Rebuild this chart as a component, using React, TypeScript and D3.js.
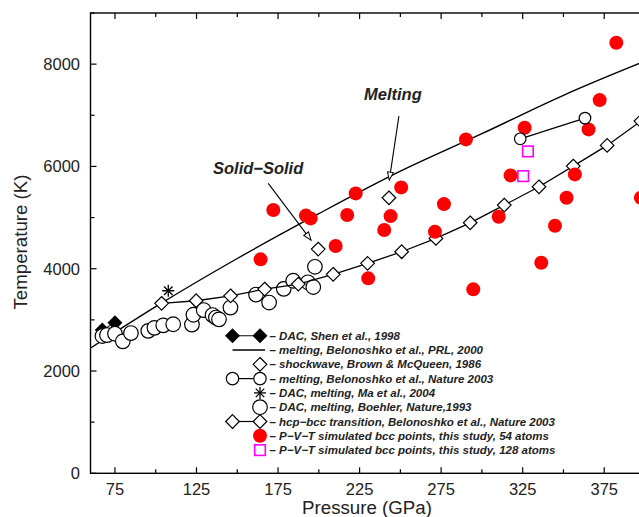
import React from "react";
import * as d3 from "d3";

// Melting curve, Belonoshko et al., PRL 2000
const meltP = [60, 100, 150, 200, 250, 300, 350, 400];
const meltT = [2449, 3260, 4200, 5076, 5907, 6640, 7390, 8058];

// hcp-bcc transition, Belonoshko et al., Nature 2003
const hcpP = [103.6, 124.8, 145.9, 166.8, 187.4, 208.8, 229.9, 250.8, 271.8, 292.8, 313.7, 335.0, 356.0, 376.8, 397.5];
const hcpT = [3323, 3374, 3470, 3602, 3700, 3890, 4105, 4332, 4593, 4898, 5244, 5602, 6007, 6411, 6886];

// Shockwave, Brown & McQueen 1986
const shockP = [199.6, 243.0];
const shockT = [4384, 5387];

// DAC, Shen et al. 1998
const shenP = [67.2, 75.0];
const shenT = [2801, 2944];

// DAC, Ma et al. 2004
const maP = [107.7];
const maT = [3569];

// Melting, Belonoshko et al., Nature 2003
const bel03P = [323.5, 363.2];
const bel03T = [6540, 6945];

// DAC, Boehler 1993
const boehP = [67.3, 70.1, 75.0, 79.8, 84.8, 95.4, 99.2, 104.6, 110.7, 122.2, 123.1, 129.4, 134.8, 136.9, 138.8, 145.8, 161.5, 169.5, 178.5, 184.3, 193.3, 196.6, 197.6];
const boehT = [2684, 2703, 2729, 2580, 2742, 2785, 2844, 2893, 2914, 2908, 3100, 3192, 3094, 3045, 3010, 3241, 3495, 3339, 3606, 3765, 3735, 3642, 4038];

// P-V-T simulated bcc points, 54 atoms
const redP = [382.4, 372.2, 365.4, 326.2, 290.2, 317.6, 357.0, 351.9, 397.5, 344.8, 310.3, 276.7, 250.5, 222.6, 217.4, 244.0, 240.1, 271.2, 210.3, 336.4, 230.3, 294.7, 172.1, 192.1, 195.0, 164.3];
const redT = [8417, 7297, 6724, 6755, 6529, 5825, 5844, 5387, 5387, 4840, 5016, 5264, 5590, 5473, 5049, 5029, 4756, 4723, 4443, 4117, 3812, 3597, 5147, 5039, 4984, 4183];

// P-V-T simulated bcc points, 128 atoms
const sqP = [328.2, 325.3];
const sqT = [6294, 5811];

const xTicks = [75, 100, 125, 150, 175, 200, 225, 250, 275, 300, 325, 350, 375, 400];
const yTicks = [0, 1000, 2000, 3000, 4000, 5000, 6000, 7000, 8000, 9000];

const legendLabels = [
  "– DAC, Shen et al., 1998",
  "– melting, Belonoshko et al., PRL, 2000",
  "– shockwave, Brown & McQueen, 1986",
  "– melting, Belonoshko et al., Nature 2003",
  "– DAC, melting, Ma et al., 2004",
  "– DAC, melting, Boehler, Nature,1993",
  "– hcp−bcc transition, Belonoshko et al., Nature 2003",
  "– P−V−T simulated bcc points, this study, 54 atoms",
  "– P−V−T simulated bcc points, this study, 128 atoms",
];

const W = 639, H = 517;
const FONT = "'Liberation Sans', Arial, Helvetica, sans-serif";
const TXT = "#222";

function diamondPath(cx: number, cy: number, r: number) {
  return `M${cx},${cy - r}L${cx + r},${cy}L${cx},${cy + r}L${cx - r},${cy}Z`;
}

function Asterisk({ cx, cy, r }: { cx: number; cy: number; r: number }) {
  const d = r * Math.SQRT1_2;
  return (
    <g stroke="#000" strokeWidth={1.3}>
      <line x1={cx} y1={cy - r} x2={cx} y2={cy + r} />
      <line x1={cx - r} y1={cy} x2={cx + r} y2={cy} />
      <line x1={cx - d} y1={cy - d} x2={cx + d} y2={cy + d} />
      <line x1={cx - d} y1={cy + d} x2={cx + d} y2={cy - d} />
    </g>
  );
}

export default function App() {
  const x = d3.scaleLinear().domain([60, 400]).range([90.5, 645]);
  const y = d3.scaleLinear().domain([0, 9000]).range([473.3, 13]);
  const x0 = x(60), x1 = x(400), y0 = y(0), y1 = y(9000);

  const meltLine = d3
    .line<number>()
    .x((_, i) => x(meltP[i]))
    .y((d) => y(d))
    .curve(d3.curveMonotoneX)(meltT) as string;
  const hcpLine = d3
    .line<number>()
    .x((_, i) => x(hcpP[i]))
    .y((d) => y(d))(hcpT) as string;
  const shenLine = d3
    .line<number>()
    .x((_, i) => x(shenP[i]))
    .y((d) => y(d))(shenT) as string;
  const bel03Line = d3
    .line<number>()
    .x((_, i) => x(bel03P[i]))
    .y((d) => y(d))(bel03T) as string;

  // legend geometry
  const lgY0 = 335.7, lgDy = 14.3, lgX1 = 232.5, lgX2 = 260, lgTx = 269.5;

  return (
    <svg
      width={W}
      height={H}
      style={{ position: "absolute", left: 0, top: 0, background: "#fff" }}
      fontFamily={FONT}
    >
      <defs>
        <marker id="openArrow" markerUnits="userSpaceOnUse" markerWidth={12} markerHeight={10} refX={9} refY={3.5} orient="auto">
          <path d="M1,0.5 L9,3.5 L1,6.5 Z" fill="#fff" stroke="#000" strokeWidth={1} />
        </marker>
        <clipPath id="plotClip">
          <rect x={x0} y={y1} width={x1 - x0} height={y0 - y1} />
        </clipPath>
      </defs>

      {/* frame */}
      <rect x={x0} y={y1} width={x1 - x0} height={y0 - y1} fill="none" stroke="#000" strokeWidth={1.4} />

      {/* x ticks */}
      {xTicks.map((v) => {
        const major = (v - 75) % 50 === 0;
        const len = major ? 6 : 4;
        return (
          <g key={"xt" + v}>
            <line x1={x(v)} x2={x(v)} y1={y0} y2={y0 - len} stroke="#000" strokeWidth={1.2} />
            <line x1={x(v)} x2={x(v)} y1={y1} y2={y1 + len} stroke="#000" strokeWidth={1.2} />
            {major && (
              <text x={x(v)} y={495} textAnchor="middle" fontSize={16.5} fill={TXT}>
                {v}
              </text>
            )}
          </g>
        );
      })}

      {/* y ticks */}
      {yTicks.map((v) => {
        const major = v % 2000 === 0;
        const len = major ? 6 : 4;
        return (
          <g key={"yt" + v}>
            <line x1={x0} x2={x0 + len} y1={y(v)} y2={y(v)} stroke="#000" strokeWidth={1.2} />
            {major && (
              <text x={80} y={y(v) + 6} textAnchor="end" fontSize={16.5} fill={TXT}>
                {v}
              </text>
            )}
          </g>
        );
      })}

      {/* axis titles */}
      <text x={367} y={513.5} textAnchor="middle" fontSize={18.7} fill={TXT}>
        Pressure (GPa)
      </text>
      <text transform={`translate(27,242) rotate(-90)`} textAnchor="middle" fontSize={18.7} fill={TXT}>
        Temperature (K)
      </text>

      <g clipPath="url(#plotClip)">
        {/* melting line Belonoshko 2000 */}
        <path d={meltLine} fill="none" stroke="#000" strokeWidth={1.4} />

        {/* Shen 1998 */}
        <path d={shenLine} fill="none" stroke="#333" strokeWidth={1.2} />
        {shenP.map((p, i) => (
          <path key={"sh" + i} d={diamondPath(x(p), y(shenT[i]), 7.5)} fill="#000" />
        ))}

        {/* Boehler 1993 circles */}
        {boehP.map((p, i) => (
          <circle key={"bo" + i} cx={x(p)} cy={y(boehT[i])} r={7.3} fill="#fff" stroke="#000" strokeWidth={1.2} />
        ))}

        {/* hcp-bcc */}
        <path d={hcpLine} fill="none" stroke="#000" strokeWidth={1.3} />
        {hcpP.map((p, i) => (
          <path key={"hc" + i} d={diamondPath(x(p), y(hcpT[i]), 6.8)} fill="#fff" stroke="#000" strokeWidth={1.2} />
        ))}

        {/* shockwave */}
        {shockP.map((p, i) => (
          <path key={"sw" + i} d={diamondPath(x(p), y(shockT[i]), 6.8)} fill="#fff" stroke="#000" strokeWidth={1.2} />
        ))}

        {/* Ma 2004 */}
        {maP.map((p, i) => (
          <Asterisk key={"ma" + i} cx={x(p)} cy={y(maT[i])} r={6} />
        ))}

        {/* red points */}
        {redP.map((p, i) => (
          <circle key={"rd" + i} cx={x(p)} cy={y(redT[i])} r={7} fill="#ff0000" />
        ))}

        {/* Belonoshko 2003 melting */}
        <path d={bel03Line} fill="none" stroke="#000" strokeWidth={1.3} />
        {bel03P.map((p, i) => (
          <circle key={"b3" + i} cx={x(p)} cy={y(bel03T[i])} r={5.8} fill="#fff" stroke="#000" strokeWidth={1.2} />
        ))}

        {/* 128 atoms squares */}
        {sqP.map((p, i) => (
          <rect key={"sq" + i} x={x(p) - 5.3} y={y(sqT[i]) - 5.3} width={10.6} height={10.6} fill="none" stroke="#ff00ff" strokeWidth={1.6} />
        ))}
      </g>

      {/* annotations */}
      <text x={x(227.7)} y={y(7296)} fontSize={16.5} fontWeight="bold" fontStyle="italic" fill={TXT}>
        Melting
      </text>
      <line x1={x(249.1)} y1={y(6984)} x2={x(243.2)} y2={y(5733)} stroke="#000" strokeWidth={1.1} markerEnd="url(#openArrow)" />
      <text x={x(135.1)} y={y(5850)} fontSize={16.5} fontWeight="bold" fontStyle="italic" fill={TXT}>
        Solid−Solid
      </text>
      <line x1={x(169.0)} y1={y(5669)} x2={x(195.2)} y2={y(4560)} stroke="#000" strokeWidth={1.1} markerEnd="url(#openArrow)" />

      {/* legend */}
      {legendLabels.map((lab, i) => {
        const ly = lgY0 + i * lgDy;
        let sym: React.ReactNode = null;
        if (i === 0)
          sym = (
            <g>
              <line x1={lgX1} x2={lgX2} y1={ly} y2={ly} stroke="#333" strokeWidth={1.2} />
              <path d={diamondPath(lgX1, ly, 7.5)} fill="#000" />
              <path d={diamondPath(lgX2, ly, 7.5)} fill="#000" />
            </g>
          );
        else if (i === 1) sym = <line x1={lgX1} x2={265} y1={ly} y2={ly} stroke="#000" strokeWidth={1.3} />;
        else if (i === 2) sym = <path d={diamondPath(lgX2, ly, 6.8)} fill="#fff" stroke="#000" strokeWidth={1.2} />;
        else if (i === 3)
          sym = (
            <g>
              <line x1={lgX1} x2={lgX2} y1={ly} y2={ly} stroke="#000" strokeWidth={1.2} />
              <circle cx={lgX1} cy={ly} r={6.2} fill="#fff" stroke="#000" strokeWidth={1.2} />
              <circle cx={lgX2} cy={ly} r={6.2} fill="#fff" stroke="#000" strokeWidth={1.2} />
            </g>
          );
        else if (i === 4) sym = <Asterisk cx={lgX2} cy={ly} r={6} />;
        else if (i === 5) sym = <circle cx={lgX2} cy={ly} r={7.3} fill="#fff" stroke="#000" strokeWidth={1.2} />;
        else if (i === 6)
          sym = (
            <g>
              <line x1={lgX1} x2={lgX2} y1={ly} y2={ly} stroke="#000" strokeWidth={1.2} />
              <path d={diamondPath(lgX1, ly, 6.8)} fill="#fff" stroke="#000" strokeWidth={1.2} />
              <path d={diamondPath(lgX2, ly, 6.8)} fill="#fff" stroke="#000" strokeWidth={1.2} />
            </g>
          );
        else if (i === 7) sym = <circle cx={lgX2} cy={ly} r={7} fill="#ff0000" />;
        else if (i === 8)
          sym = <rect x={lgX2 - 5.3} y={ly - 5.3} width={10.6} height={10.6} fill="#fff" stroke="#ff00ff" strokeWidth={1.6} />;
        return (
          <g key={"lg" + i}>
            {sym}
            <text x={lgTx} y={ly + 4} fontSize={11.5} fontWeight="bold" fontStyle="italic" fill={TXT}>
              {lab}
            </text>
          </g>
        );
      })}
    </svg>
  );
}
